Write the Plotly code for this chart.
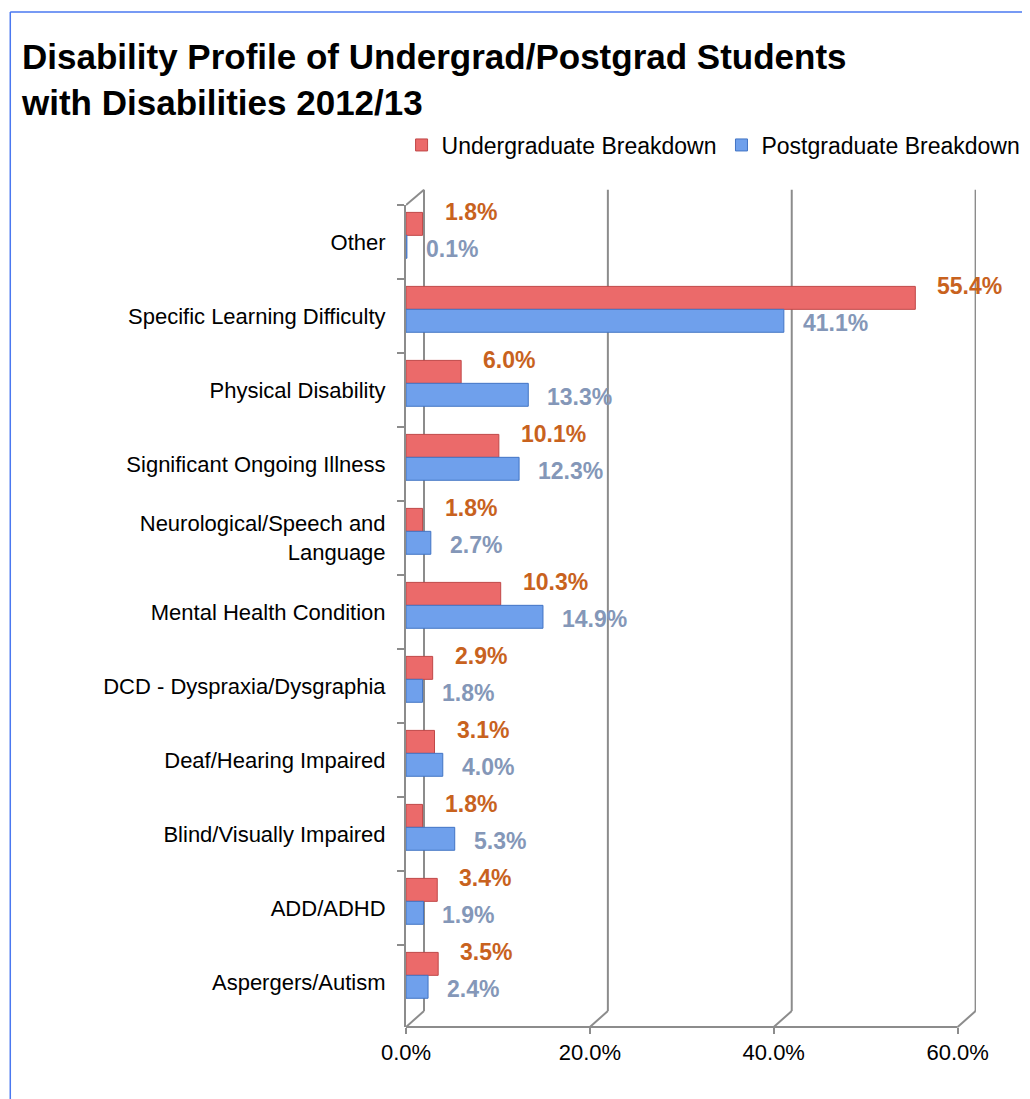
import plotly.graph_objects as go

categories = ["Other", "Specific Learning Difficulty", "Physical Disability",
              "Significant Ongoing Illness", "Neurological/Speech and<br>Language",
              "Mental Health Condition", "DCD - Dyspraxia/Dysgraphia",
              "Deaf/Hearing Impaired", "Blind/Visually Impaired", "ADD/ADHD",
              "Aspergers/Autism"]
undergrad = [1.8, 55.4, 6.0, 10.1, 1.8, 10.3, 2.9, 3.1, 1.8, 3.4, 3.5]
postgrad = [0.1, 41.1, 13.3, 12.3, 2.7, 14.9, 1.8, 4.0, 5.3, 1.9, 2.4]
x_ticks = [0, 20, 40, 60]
x_tick_labels = ["0.0%", "20.0%", "40.0%", "60.0%"]

FONT = "Liberation Sans, Arial, sans-serif"
GRID = "#8C8C8C"
PAGE_OFF = 8  # default body margin of the html page
W, H = 1030 - PAGE_OFF, 1099 - PAGE_OFF
X_MAX = 62  # a little room past the last tick for the 3D back wall
ML, MT = 406 - PAGE_OFF, 205 - PAGE_OFF
MB = H - (1027 - PAGE_OFF)
PX_PER_UNIT = 9.2
PW = PX_PER_UNIT * X_MAX
MR = W - ML - PW
PH = H - MT - MB
DX, DY = 18, 16  # 3D depth offset in pixels

fig = go.Figure()
fig.add_trace(go.Bar(
    y=categories, x=undergrad, orientation="h", name="Undergraduate Breakdown",
    width=0.31, offset=-0.40,
    marker=dict(color="#EB6A6A", line=dict(color="#C04848", width=1)),
))
fig.add_trace(go.Bar(
    y=categories, x=postgrad, orientation="h", name="Postgraduate Breakdown",
    width=0.31, offset=-0.09,
    marker=dict(color="#6FA0EC", line=dict(color="#4274C4", width=1)),
))

annotations = []
for cat, v in zip(categories, undergrad):
    annotations.append(dict(
        x=v, y=cat, xref="x", yref="y", text=f"<b>{v:.1f}%</b>", showarrow=False,
        xanchor="left", yanchor="middle", xshift=20, yshift=30,
        font=dict(family=FONT, size=23, color="#C8621E")))
for cat, v in zip(categories, postgrad):
    annotations.append(dict(
        x=v, y=cat, xref="x", yref="y", text=f"<b>{v:.1f}%</b>", showarrow=False,
        xanchor="left", yanchor="middle", xshift=17, yshift=-7,
        font=dict(family=FONT, size=23, color="#8497B8")))

shapes = []
dy_p = DY / PH
for t in x_ticks:
    # back-wall gridline
    shapes.append(dict(type="line", xref="x", xsizemode="pixel", xanchor=t,
                       x0=DX, x1=DX, yref="paper", y0=dy_p, y1=1 + dy_p * 0.95,
                       line=dict(color=GRID, width=2), layer="below"))
    # floor diagonal
    shapes.append(dict(type="line", xref="x", xsizemode="pixel", xanchor=t,
                       x0=0, x1=DX, yref="paper", y0=0, y1=dy_p,
                       line=dict(color=GRID, width=2), layer="below"))
# top-left diagonal of side wall
shapes.append(dict(type="line", xref="x", xsizemode="pixel", xanchor=0,
                   x0=0, x1=DX, yref="paper", y0=1, y1=1 + dy_p * 0.95,
                   line=dict(color=GRID, width=2), layer="below"))
# front floor edge (x axis line up to the last tick)
shapes.append(dict(type="line", xref="x", yref="paper", x0=x_ticks[0],
                   x1=x_ticks[-1], y0=0, y1=0,
                   line=dict(color=GRID, width=2), layer="below"))
# outer frame (top and left edges)
fx0 = (10 - PAGE_OFF - ML) / PW
fx1 = (W - ML) / PW
fy1 = (H - MB - (12 - PAGE_OFF)) / PH
fy0 = -MB / PH
shapes.append(dict(type="line", xref="paper", yref="paper", x0=fx0, x1=fx1,
                   y0=fy1, y1=fy1, line=dict(color="#4A78F0", width=1.5)))
shapes.append(dict(type="line", xref="paper", yref="paper", x0=fx0, x1=fx0,
                   y0=fy1, y1=fy0, line=dict(color="#4A78F0", width=1.5)))

fig.update_layout(
    width=W, height=H,
    paper_bgcolor="white", plot_bgcolor="white",
    barmode="overlay",
    margin=dict(l=ML, r=MR, t=MT, b=MB, autoexpand=False),
    font=dict(family=FONT, size=22, color="black"),
    title=dict(
        text="<b>Disability Profile of Undergrad/Postgrad Students<br>with Disabilities 2012/13</b>",
        x=14 / W, xanchor="left", y=0.944, yanchor="top",
        font=dict(family=FONT, size=35, color="black"),
    ),
    legend=dict(
        orientation="h", x=(1026 - PAGE_OFF - ML) / PW, xanchor="right",
        y=(H - MB - (145 - PAGE_OFF)) / PH, yanchor="middle",
        font=dict(family=FONT, size=23, color="black"),
        traceorder="normal", itemwidth=30,
    ),
    xaxis=dict(
        range=[0, X_MAX], tickvals=x_ticks, ticktext=x_tick_labels,
        showgrid=False, showline=False,
        ticks="outside", tickcolor=GRID, ticklen=6, tickwidth=2,
        zeroline=False, tickfont=dict(size=22, color="black"),
    ),
    yaxis=dict(
        autorange="reversed", showline=True, linecolor=GRID, linewidth=2,
        ticks="outside", tickson="boundaries", tickcolor=GRID, ticklen=7,
        tickwidth=2, showgrid=False, ticklabelstandoff=14,
        tickfont=dict(size=22, color="black"),
    ),
    annotations=annotations,
    shapes=shapes,
)

fig.write_html("out.html")
